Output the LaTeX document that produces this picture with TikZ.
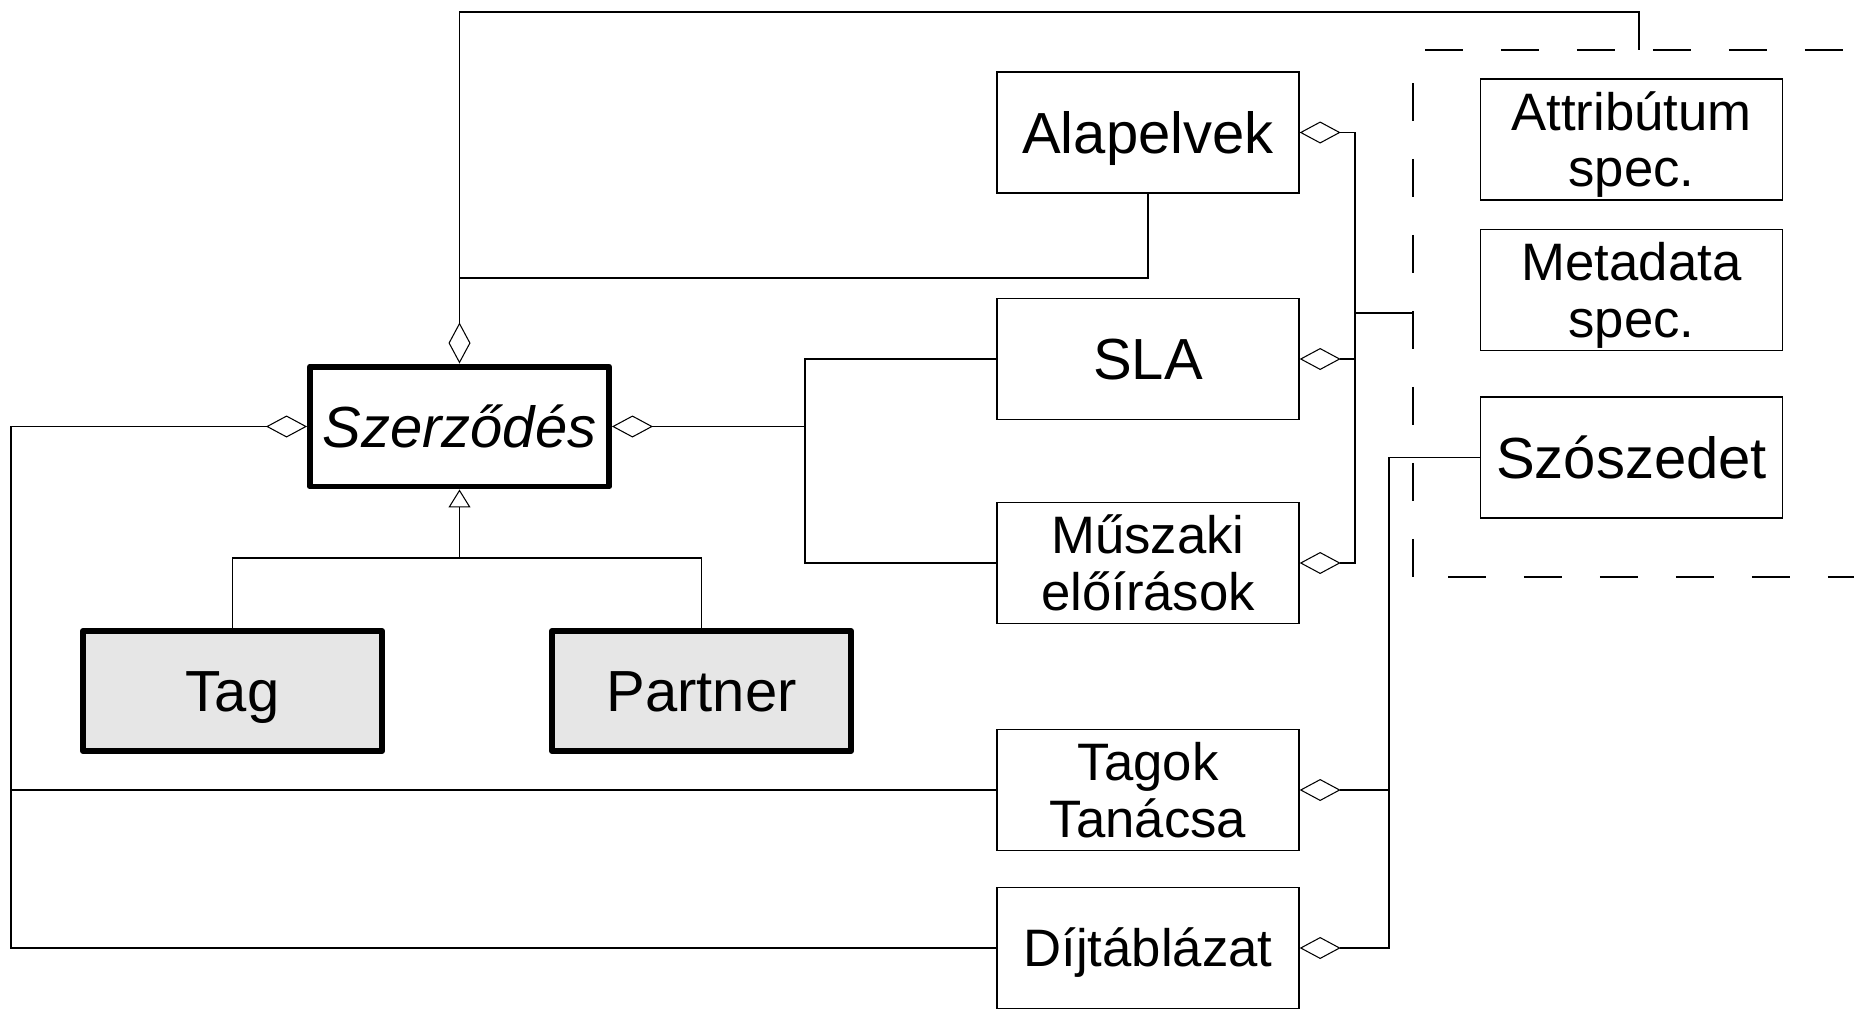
\documentclass[tikz,border=0pt]{standalone}
\usepackage{fontspec}
\setmainfont{Liberation Sans}
\usetikzlibrary{arrows.meta}
\definecolor{tagfill}{HTML}{E6E6E6}
\newcommand\twolines[2]{\raisebox{0pt}[53.8pt][0pt]{\vbox{\halign{\hfil##\hfil\cr#1\cr#2\cr}}}}
\begin{document}
\begin{tikzpicture}[x=0.02cm,y=-0.02cm,
 box/.style={draw=black,line width=0.8pt,minimum width=6.04cm,minimum height=2.42cm,inner sep=0pt,
   font=\fontsize{33}{33}\selectfont,text height=23.6pt,text depth=0pt},
 small/.style={font=\fontsize{30}{32.3}\selectfont,text height=21.5pt},
 duo/.style={font=\fontsize{30}{32.3}\selectfont,text height=53.8pt},
 bigbox/.style={box,line width=3.4pt,line join=round,minimum width=5.98cm,minimum height=2.4cm},
 conn/.style={line width=0.6pt},
 aggr/.style={conn,{Diamond[open,length=0.82cm,width=0.44cm]}-},
 gen/.style={conn,{Triangle[open,length=0.36cm,width=0.44cm]}-},
 pkg/.style={line width=0.8pt,dash pattern=on 0.76cm off 0.76cm}]
\useasboundingbox (0,0) rectangle (1854,1011);

\node[box] (alap) at (1148,132.5) {Alapelvek};
\node[box] (sla) at (1148,359) {SLA};
\node[box,duo] (musz) at (1148,563) {\twolines{Műszaki}{előírások}};
\node[box,duo] (tagok) at (1148,790) {\twolines{Tagok}{Tanácsa}};
\node[box,small] (dij) at (1148,948) {Díjtáblázat};
\node[box,duo] (attr) at (1631.5,139.5) {\twolines{Attribútum}{spec.}};
\node[box,duo] (meta) at (1631.5,290) {\twolines{Metadata}{spec.}};
\node[box] (szo) at (1631.5,457.5) {Szószedet};
\node[bigbox] (szer) at (459.5,426.5) {\itshape Szerződés};
\node[bigbox,fill=tagfill] (tag) at (232.5,691) {Tag};
\node[bigbox,fill=tagfill] (partner) at (701.5,691) {Partner};

% package (dashed)
\draw[pkg] (1425,50) -- (1854,50);
\draw[pkg] (1413,83) -- (1413,577);
\draw[pkg] (1448,577) -- (1854,577);

% coordinates
\coordinate (topR) at (1639,12);
\coordinate (pkgtop) at (1639,50);
\coordinate (j1) at (459.5,278);
\coordinate (b1) at (805,426.5);
\coordinate (b2) at (11,426.5);
\coordinate (r1) at (1355,313);
\coordinate (pkgL) at (1413,313);
\coordinate (r2) at (1389,457.5);
\coordinate (g) at (459.5,558);

% Szerződés top aggregation to package
\draw[aggr] (szer.north) |- (topR) -- (pkgtop);
\draw[conn] (alap.south) |- (j1);

% Szerződés right aggregation
\draw[aggr] (szer.east) -- (b1);
\draw[conn] (sla.west) -| (b1);
\draw[conn] (musz.west) -| (b1);

% Szerződés left aggregation
\draw[aggr] (szer.west) -- (b2) |- (dij.west);
\draw[conn] (b2 |- tagok.west) -- (tagok.west);

% right-side aggregations to package
\draw[aggr] (alap.east) -| (r1);
\draw[aggr] (sla.east) -| (r1);
\draw[aggr] (musz.east) -| (r1);
\draw[conn] (r1) -- (pkgL);

\draw[aggr] (tagok.east) -| (r2) -- (szo.west);
\draw[aggr] (dij.east) -| (r2);

% generalization
\draw[gen] (szer.south) -- (g);
\draw[conn] (tag.north) |- (g) -| (partner.north);
\end{tikzpicture}
\end{document}
